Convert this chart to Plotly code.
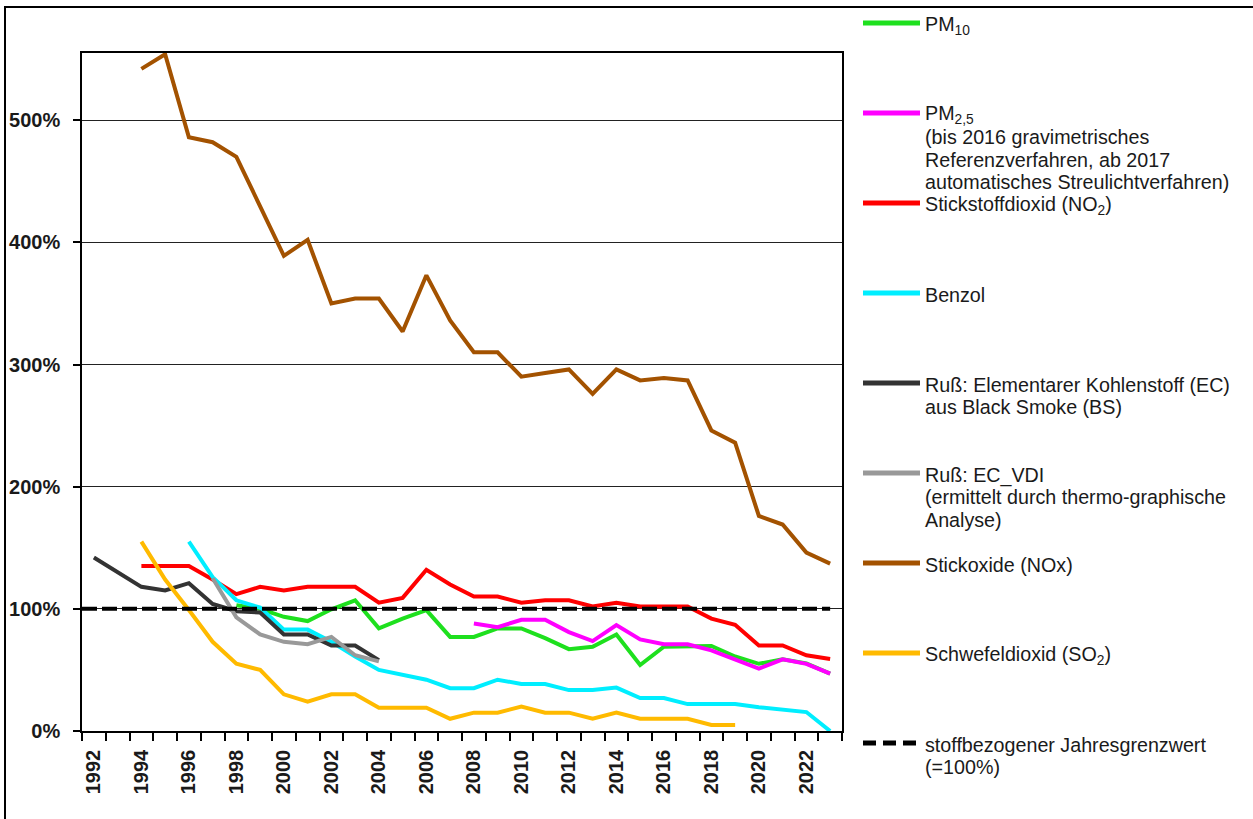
import plotly.graph_objects as go

# ---------------- data (percent of annual limit value) ----------------
pm10_years = list(range(1998, 2024))
pm10 = [103, 100, 93.5, 90, 99.6, 107, 84, 92, 99, 77, 77, 84, 84, 76, 67, 69,
        79, 54, 69, 69, 69.6, 61, 55, 58.7, 55.4, 47]

pm25_years = list(range(2008, 2024))
pm25 = [88, 85, 91, 91, 81, 73.6, 86.7, 75, 71, 71, 66, 58.7, 51, 58.7, 55, 47]

no2_years = list(range(1994, 2024))
no2 = [135, 135, 135, 124, 112, 118, 115, 118, 118, 118, 105, 109, 132, 120, 110,
       110, 105, 107, 107, 102, 105, 102, 102, 102, 92, 87, 70, 70, 62, 59]

benzol_years = list(range(1996, 2024))
benzol = [155, 126, 107, 101, 83, 83, 73, 61, 50, 46, 42, 35, 35, 42, 38.5, 38.5,
          33.5, 33.5, 35.5, 27, 27, 22, 22, 22, 19.5, 17.5, 15.5, 0]

ec_bs_years = list(range(1992, 2005))
ec_bs = [142, 130, 118, 115, 121, 104, 98, 97, 79, 79, 70, 70, 58]

ec_vdi_years = list(range(1997, 2005))
ec_vdi = [125, 93, 79, 73, 71, 77, 62, 57]

nox_years = list(range(1994, 2024))
nox = [542, 554, 486, 482, 470, 430, 389, 402, 350, 354, 354, 327, 373, 336, 310,
       310, 290, 293, 296, 276, 296, 287, 289, 287, 246, 236, 176, 169, 146, 137]

so2_years = list(range(1994, 2020))
so2 = [155, 124, 99, 73, 55, 50, 30, 24, 30, 30, 19, 19, 19, 10, 15, 15, 20, 15,
       15, 10, 15, 10, 10, 10, 5, 5]

limit_x = [1991.5, 2023]
limit_y = [100, 100]

x_tick_years = list(range(1992, 2023, 2))
y_ticks = [0, 100, 200, 300, 400, 500]

legend_labels = [
    ["PM<sub>10</sub>"],
    ["PM<sub>2,5</sub>", "(bis 2016 gravimetrisches", "Referenzverfahren, ab 2017",
     "automatisches Streulichtverfahren)"],
    ["Stickstoffdioxid (NO<sub>2</sub>)"],
    ["Benzol"],
    ["Ruß: Elementarer Kohlenstoff (EC)", "aus Black Smoke (BS)"],
    ["Ruß: EC_VDI", "(ermittelt durch thermo-graphische", "Analyse)"],
    ["Stickoxide (NOx)"],
    ["Schwefeldioxid (SO<sub>2</sub>)"],
    ["stoffbezogener Jahresgrenzwert", "(=100%)"],
]

# ---------------- styles ----------------
C_PM10 = "#1EE01E"
C_PM25 = "#FF00FF"
C_NO2 = "#FF0000"
C_BENZ = "#00EEFF"
C_ECBS = "#333333"
C_ECVDI = "#999999"
C_NOX = "#A35200"
C_SO2 = "#FFBA00"
C_LIM = "#000000"

series = [
    (pm10_years, pm10, C_PM10, "solid"),
    (pm25_years, pm25, C_PM25, "solid"),
    (no2_years, no2, C_NO2, "solid"),
    (benzol_years, benzol, C_BENZ, "solid"),
    (ec_bs_years, ec_bs, C_ECBS, "solid"),
    (ec_vdi_years, ec_vdi, C_ECVDI, "solid"),
    (nox_years, nox, C_NOX, "solid"),
    (so2_years, so2, C_SO2, "solid"),
    (limit_x, limit_y, C_LIM, "15px,5px"),
]

W, H = 1253, 819
L, R, T, B = 82, 842, 53, 731   # plot area in pixels


def px(x):
    return (x - L) / (R - L)


def py(y):
    return (B - y) / (B - T)


fig = go.Figure()
for xs, ys, col, dash in series:
    fig.add_trace(go.Scatter(
        x=xs, y=ys, mode="lines",
        line=dict(color=col, width=4, dash=dash),
        showlegend=False, hoverinfo="skip"))

TXT = "#1a1a1a"
FONT = "Liberation Sans, Arial, sans-serif"

fig.update_layout(
    width=W, height=H,
    margin=dict(l=L, r=W - R, t=T, b=H - B, pad=0),
    paper_bgcolor="white", plot_bgcolor="white",
    font=dict(family=FONT, color=TXT),
    showlegend=False,
    xaxis=dict(
        range=[1991.5, 2023.5],
        tickmode="array", tickvals=x_tick_years,
        ticktext=[str(v) for v in x_tick_years],
        tickangle=-90, ticks="", ticklen=0,
        tickfont=dict(size=20, family=FONT, color=TXT, weight="bold"),
        ticklabelstandoff=9,
        minor=dict(tick0=1991.5, dtick=1, ticks="outside", ticklen=8,
                   tickwidth=1.5, tickcolor="#000", showgrid=False),
        showgrid=False, zeroline=False, automargin=False,
        showline=True, linecolor="#000", linewidth=1.5, mirror=True,
    ),
    yaxis=dict(
        range=[0, 555],
        tickmode="array", tickvals=y_ticks,
        ticktext=[f"{v}%" for v in y_ticks],
        ticks="outside", ticklen=7, tickwidth=1.5, tickcolor="#000",
        tickfont=dict(size=20, family=FONT, color=TXT, weight="bold"),
        ticklabelstandoff=9,
        showgrid=True, gridcolor="#222", gridwidth=1.3,
        zeroline=False, automargin=False,
        showline=True, linecolor="#000", linewidth=1.5, mirror=True,
    ),
)

# ---------------- manual legend ----------------
shapes = []
annotations = []
colors = [C_PM10, C_PM25, C_NO2, C_BENZ, C_ECBS, C_ECVDI, C_NOX, C_SO2, C_LIM]
for i, (lines, col) in enumerate(zip(legend_labels, colors)):
    yl = 23 + 90 * i
    if col == C_LIM:
        shapes.append(dict(type="line", xref="paper", yref="paper",
                           x0=px(863), x1=px(917), y0=py(yl), y1=py(yl),
                           line=dict(color=col, width=5, dash="13px,7px")))
    else:
        shapes.append(dict(type="line", xref="paper", yref="paper",
                           x0=px(863), x1=px(920), y0=py(yl), y1=py(yl),
                           line=dict(color=col, width=5)))
    for j, t in enumerate(lines):
        annotations.append(dict(
            xref="paper", yref="paper", x=px(923), y=py(yl + 2 + 22.3 * j),
            xanchor="left", yanchor="middle", showarrow=False, text=t,
            font=dict(size=19.7, family=FONT, color=TXT)))

# outer frame (left and top edges visible)
shapes.append(dict(type="path", xref="paper", yref="paper",
                   path=f"M {px(5)} {py(830)} L {px(5)} {py(7)} L {px(1260)} {py(7)}",
                   line=dict(color="#000", width=2)))

fig.update_layout(shapes=shapes, annotations=annotations)
fig.write_html("out.html",
               config={"displayModeBar": False},
               post_script="document.body.style.margin='0';"
                           "document.body.style.overflow='hidden';")
